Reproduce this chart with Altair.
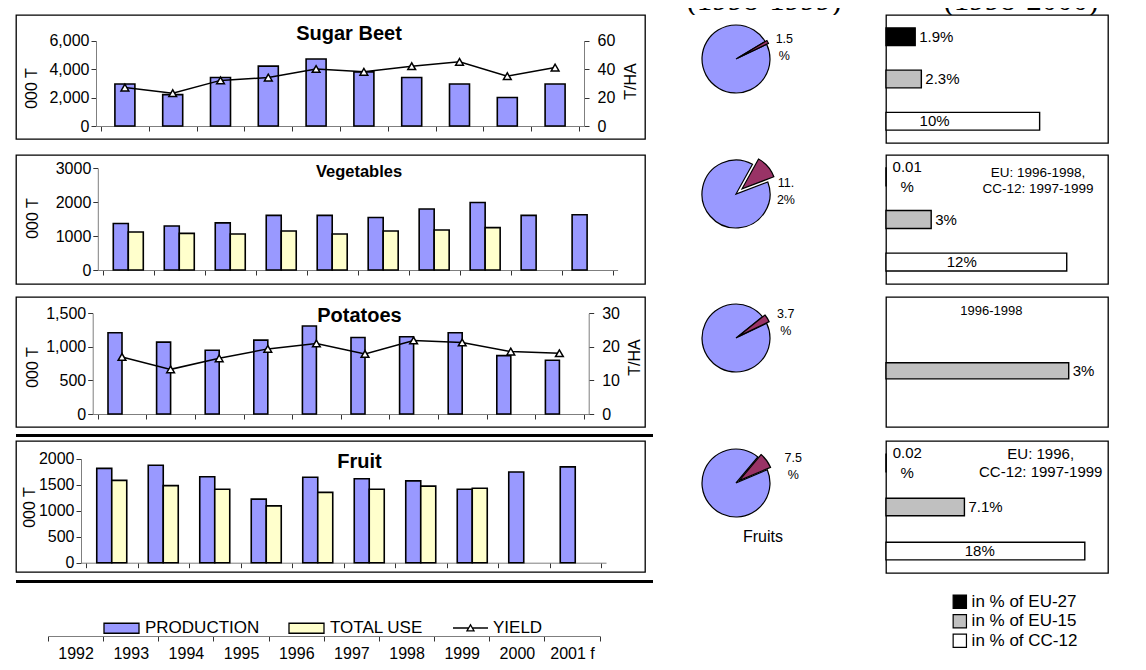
import math
import altair as alt
import pandas as pd

FONT = "Liberation Sans"
BLUE = "#9999FF"
YELLOW = "#FFFFCC"
MAROON = "#993366"
GREY = "#C0C0C0"
AXIS_GREY = "#7f7f7f"

# ---------------- data ----------------
years = ["1992", "1993", "1994", "1995", "1996", "1997", "1998", "1999", "2000", "2001 f"]

sugar_production = [2950, 2200, 3400, 4200, 4700, 3800, 3400, 2950, 2000, 2950]
sugar_yield = [27, 23, 32, 34, 40, 38, 42, 45, 35, 41]

veg_production = [1370, 1300, 1390, 1610, 1610, 1550, 1800, 1990, 1610, 1630]
veg_total_use = [1120, 1080, 1060, 1150, 1060, 1150, 1180, 1250, None, None]

potato_production = [1210, 1070, 950, 1100, 1310, 1140, 1150, 1210, 870, 800]
potato_yield = [17.0, 13.3, 16.6, 19.4, 21.0, 17.9, 21.9, 21.3, 18.6, 18.1]

fruit_production = [1810, 1870, 1650, 1220, 1640, 1610, 1570, 1410, 1740, 1840]
fruit_total_use = [1580, 1480, 1410, 1090, 1350, 1410, 1470, 1430, None, None]

bar_series = ["PRODUCTION", "TOTAL USE"]
line_series = ["YIELD"]

pie_shares = [1.5, 11.2, 3.7, 7.5]
pie_labels = ["1.5\n%", "11.\n2%", "3.7\n%", "7.5\n%"]

groups = ["EU-27", "EU-15", "CC-12"]
group_legend = ["in % of EU-27", "in % of EU-15", "in % of CC-12"]
share_sugar = [1.9, 2.3, 10.0]
share_veg = [0.01, 3.0, 12.0]
share_potato = [None, 3.0, None]
share_fruit = [0.02, 7.1, 18.0]
labels_sugar = ["1.9%", "2.3%", "10%"]
labels_veg = ["0.01\n%", "3%", "12%"]
labels_potato = [None, "3%", None]
labels_fruit = ["0.02\n%", "7.1%", "18%"]

note_veg = ["EU: 1996-1998,", "CC-12: 1997-1999"]
note_potato = "1996-1998"
note_fruit = ["EU: 1996,", "CC-12: 1997-1999"]
header_left = "(1998-1999)"
header_right = "(1998-2000)"

BOX = alt.ViewBackground(stroke="black", strokeWidth=1.3, fill="white")


def year_frame(**cols):
    frame = pd.DataFrame({"year": years, "pos": [i + 0.5 for i in range(len(years))]})
    for k, v in cols.items():
        frame[k] = v
    return frame


def spacer(w, h):
    return alt.Chart(pd.DataFrame({"z": [0]})).mark_point(opacity=0, size=0, strokeWidth=0).properties(
        width=w, height=h)


def thick_line(w, h):
    return alt.Chart(pd.DataFrame({"z": [0]})).mark_point(opacity=0, size=0, strokeWidth=0).properties(
        width=w, height=h, view=alt.ViewBackground(fill="black", strokeWidth=0))


def year_x(rng, off):
    return alt.X("pos:Q", scale=alt.Scale(domain=[0, 10], range=rng, nice=False, zero=False),
                 axis=alt.Axis(values=list(range(11)), labels=False, ticks=True, tickSize=5,
                               domain=True, grid=False, title=None, offset=off,
                               domainColor=AXIS_GREY, tickColor="#333333"))


def left_axis(values, fmt, offset, tx, ty):
    return alt.Axis(values=values, format=fmt, orient="left", offset=offset, grid=False,
                    tickSize=5, labelPadding=2, labelFontSize=16, labelFont=FONT,
                    domainColor=AXIS_GREY, tickColor="#333333",
                    title="000 T", titleFont=FONT, titleFontSize=16, titleFontWeight="normal",
                    titleAngle=270, titleX=tx, titleY=ty, titleAlign="center",
                    titleBaseline="middle")


def right_axis(values, offset, tx, ty):
    return alt.Axis(values=values, format="d", orient="right", offset=offset, grid=False,
                    tickSize=5, labelPadding=8, labelFontSize=16, labelFont=FONT,
                    domainColor=AXIS_GREY, tickColor="#333333",
                    title="T/HA", titleFont=FONT, titleFontSize=16, titleFontWeight="normal",
                    titleAngle=270, titleX=tx, titleY=ty, titleAlign="center",
                    titleBaseline="middle")


def panel_title(text, size, dx, dy):
    return alt.Title(text, fontSize=size, fontWeight="bold", font=FONT, color="black",
                     anchor="middle", frame="group", offset=0, dx=dx, dy=dy, baseline="middle")


def bars(df, field, color, width, xoff, x, yscale, yaxis):
    return alt.Chart(df).mark_bar(color=color, stroke="black", strokeWidth=1.6, width=width,
                                  xOffset=xoff, orient="vertical").encode(
        x=x, y=alt.Y(field + ":Q", scale=yscale, axis=yaxis))


def yield_line(df, x, yscale, yaxis):
    return alt.Chart(df).mark_line(
        color="black", strokeWidth=1.5,
        point=alt.OverlayMarkDef(shape="triangle-up", filled=True, fill="white",
                                 stroke="black", strokeWidth=1.5, size=60)
    ).encode(x=x, y=alt.Y("yld:Q", scale=yscale, axis=yaxis))


# ---------- Sugar beet ----------
sb_df = year_frame(production=sugar_production, yld=sugar_yield)
sb_x = year_x([80, 568], -13)
sugar = alt.layer(
    bars(sb_df, "production", BLUE, 20, 0, sb_x,
         alt.Scale(domain=[0, 6000], range=[111, 25.5], nice=False),
         left_axis([0, 2000, 4000, 6000], ",d", -80, -65, 73)),
    yield_line(sb_df, sb_x, alt.Scale(domain=[0, 60], range=[111, 25.5], nice=False),
               right_axis([0, 20, 40, 60], -61, 46, 66)),
).resolve_scale(y="independent").properties(
    width=629, height=124, view=BOX, title=panel_title("Sugar Beet", 20, 18.5, 39.2))

# ---------- Vegetables ----------
vg_df = year_frame(production=veg_production, use=veg_total_use)
vg_x = year_x([81.8, 601.6], -14)
vg_scale = alt.Scale(domain=[0, 3000], range=[115, 13.3], nice=False)
vg_axis = left_axis([0, 1000, 2000, 3000], "d", -81.8, -65, 63)
vegetables = alt.layer(
    bars(vg_df, "production", BLUE, 15, -7.5, vg_x, vg_scale, vg_axis),
    bars(vg_df, "use", YELLOW, 15, 7.5, vg_x, vg_scale, vg_axis),
).properties(width=629, height=129, view=BOX, title=panel_title("Vegetables", 16.5, 28.5, 33))

# ---------- Potatoes ----------
pt_df = year_frame(production=potato_production, yld=potato_yield)
pt_x = year_x([76.7, 572.7], -13)
potatoes = alt.layer(
    bars(pt_df, "production", BLUE, 14, -7, pt_x,
         alt.Scale(domain=[0, 1500], range=[117, 16.3], nice=False),
         left_axis([0, 500, 1000, 1500], ",d", -76.7, -60, 70)),
    yield_line(pt_df, pt_x, alt.Scale(domain=[0, 30], range=[117, 16.3], nice=False),
               right_axis([0, 10, 20, 30], -56.3, 46, 60)),
).resolve_scale(y="independent").properties(
    width=629, height=130, view=BOX, title=panel_title("Potatoes", 20, 29, 39))

# ---------- Fruit ----------
fr_df = year_frame(production=fruit_production, use=fruit_total_use)
fr_x = year_x([65, 590], -9.3)
fr_scale = alt.Scale(domain=[0, 2000], range=[121.7, 17.5], nice=False)
fr_axis = left_axis([0, 500, 1000, 1500, 2000], "d", -65, -52, 66)
fruit = alt.layer(
    bars(fr_df, "production", BLUE, 15, -7.5, fr_x, fr_scale, fr_axis),
    bars(fr_df, "use", YELLOW, 15, 7.5, fr_x, fr_scale, fr_axis),
).properties(width=629, height=131, view=BOX, title=panel_title("Fruit", 20, 29, 41))

# ---------- bottom: legend + year axis ----------
year_array = "[" + ",".join("'%s'" % y for y in years) + "]"
bottom_axis = alt.Axis(values=list(range(11)),
                       labelExpr="datum.value < %d ? %s[datum.value] : ''" % (len(years), year_array),
                       labelOffset=27.6, labelFlush=False, labelOverlap=False, labelBound=False,
                       tickSize=5, labelPadding=4, labelFontSize=16, labelFont=FONT,
                       domainColor=AXIS_GREY, tickColor="#333333",
                       grid=False, title=None, offset=-4)
axis_layer = alt.Chart(year_frame()).mark_point(opacity=0, size=0, strokeWidth=0).encode(
    x=alt.X("pos:Q", scale=alt.Scale(domain=[0, 10], range=[32, 583.6], nice=False, zero=False),
            axis=bottom_axis))
RECT_PATH = "M-1,-0.2857L1,-0.2857L1,0.2857L-1,0.2857Z"
YIELD_PATH = "M-1,0L-0.106,0M0.106,0L1,0M-0.2,0.16L0,-0.18L0.2,0.16Z"
bar_leg = alt.Legend(orient="none", legendX=87, legendY=9.5, direction="horizontal", title=None,
                     symbolType=RECT_PATH, symbolSize=1225, symbolStrokeColor="black",
                     symbolStrokeWidth=1.3, labelFont=FONT, labelFontSize=17, labelColor="black",
                     labelOffset=5, columnPadding=26, padding=0, symbolOpacity=1)
bar_legend_layer = alt.Chart(pd.DataFrame({"s": bar_series})).transform_filter("false").mark_square(
    filled=True, stroke="black", strokeWidth=1.3, opacity=1).encode(
    color=alt.Color("s:N", scale=alt.Scale(domain=bar_series, range=[BLUE, YELLOW]),
                    legend=bar_leg))
line_leg = alt.Legend(orient="none", legendX=436, legendY=9.5, direction="horizontal", title=None,
                      symbolType=YIELD_PATH, symbolSize=1225, symbolStrokeColor="black",
                      symbolStrokeWidth=1.3, labelFont=FONT, labelFontSize=17, labelColor="black",
                      labelOffset=4, padding=0, symbolOpacity=1)
line_legend_layer = alt.Chart(pd.DataFrame({"s": line_series})).transform_filter("false").mark_line(
    color="black", strokeWidth=1.3, opacity=1).encode(
    strokeDash=alt.StrokeDash("s:N", scale=alt.Scale(domain=line_series, range=[[1, 0]]),
                              legend=line_leg))
bottom = alt.layer(axis_layer, bar_legend_layer, line_legend_layer).properties(width=629, height=40)

# ---------- pies ----------
pie_style = [
    dict(start=59, explode=2, dx=8.7, dy=1.8),
    dict(start=29, explode=8, dx=15.9, dy=18.9),
    dict(start=51, explode=3, dx=11.7, dy=0.2),
    dict(start=40, explode=4, dx=21.1, dy=1.5),
]


def pie(i, caption=None):
    share = pie_shares[i]
    st = pie_style[i]
    df = pd.DataFrame({"part": ["share", "rest"], "v": [share, 100 - share], "ord": [0, 1],
                       "label": [pie_labels[i], ""]})
    a0 = math.radians(st["start"])
    mid = a0 + math.radians(share * 3.6) / 2
    theta = alt.Theta("v:Q", stack=True, scale=alt.Scale(range=[a0, a0 + 2 * math.pi]))
    base = alt.Chart(df).encode(theta=theta, order=alt.Order("ord:Q"))
    rest = base.mark_arc(radius=34, fill=BLUE, stroke="black", strokeWidth=1.2).encode(
        opacity=alt.condition("datum.part == 'rest'", alt.value(1), alt.value(0)))
    wedge = base.mark_arc(radius=34, fill=MAROON, stroke="black", strokeWidth=1.2,
                          xOffset=st["explode"] * math.sin(mid),
                          yOffset=-st["explode"] * math.cos(mid)).encode(
        opacity=alt.condition("datum.part == 'share'", alt.value(1), alt.value(0)))
    text = base.mark_text(radius=45, font=FONT, fontSize=12.5, lineBreak="\n", lineHeight=17,
                          align="center", baseline="middle", dx=st["dx"], dy=st["dy"],
                          color="black").encode(text="label:N")
    ch = alt.layer(rest, wedge, text).properties(width=166, height=80)
    if caption:
        ch = ch.properties(title=alt.Title(caption, orient="bottom", fontSize=16, font=FONT,
                                           fontWeight="normal", color="black", anchor="middle",
                                           frame="group", offset=0, dx=27, dy=14,
                                           baseline="middle"))
    return ch


def header(text, width, cx):
    return alt.Chart(pd.DataFrame({"t": [text]})).mark_text(
        font="Liberation Serif", fontSize=31, align="center", baseline="alphabetic", clip=True,
        color="black").encode(text="t:N", x=alt.value(cx), y=alt.value(2)).properties(
        width=width, height=7)


# ---------- share boxes ----------
def share_box(values, labels, xmax, height, note=None, note_size=13.5, note_dx=0, note_dy=0,
              note_lh=16.5, pin=0.58, pout=0.305, align=0.5):
    df = pd.DataFrame({"grp": groups, "v": values, "lab": labels})
    y = alt.Y("grp:N", sort=groups,
              scale=alt.Scale(domain=groups, paddingInner=pin, paddingOuter=pout, align=align),
              axis=None)
    x = alt.X("v:Q", scale=alt.Scale(domain=[0, xmax], nice=False, zero=True), axis=None)
    b = alt.Chart(df).mark_bar(stroke="black", strokeWidth=1.4).encode(
        x=x, y=y, color=alt.Color("grp:N", scale=alt.Scale(domain=groups,
                                                         range=["black", GREY, "white"]),
                                  legend=None))
    txt = dict(font=FONT, fontSize=15, color="black", baseline="middle")
    outside = alt.Chart(df).transform_filter(
        "isValid(datum.v) && datum.grp != 'CC-12' && datum.v >= 0.1").mark_text(
        align="left", dx=4, **txt).encode(x=x, y=y, text="lab:N")
    tiny = alt.Chart(df).transform_filter("isValid(datum.v) && datum.v < 0.1").mark_text(
        align="center", dx=21, dy=-9.75, lineBreak="\n", lineHeight=19.5, **txt).encode(
        x=x, y=y, text="lab:N")
    inside = alt.Chart(df).transform_filter(
        "isValid(datum.v) && datum.grp == 'CC-12'").mark_text(
        align="right", dx=-90, **txt).encode(x=x, y=y, text="lab:N")
    ch = alt.layer(b, outside, tiny, inside).properties(width=222, height=height, view=BOX)
    if note:
        ch = ch.properties(title=alt.Title(note, fontSize=note_size, font=FONT,
                                           fontWeight="normal", color="black", anchor="middle",
                                           frame="group", offset=0, dx=note_dx, dy=note_dy,
                                           baseline="middle", lineHeight=note_lh))
    return ch


box1 = share_box(share_sugar, labels_sugar, 14.45, 128)
box2 = share_box(share_veg, labels_veg, 14.74, 129, note=note_veg, note_size=13.5,
                 note_dx=41, note_dy=47.5, note_lh=16.5)
box3 = share_box(share_potato, labels_potato, 3.645, 130, note=note_potato, note_size=13,
                 note_dx=-5.7, note_dy=27.4, pin=0.63, align=0.83)
box4 = share_box(share_fruit, labels_fruit, 20.1, 132, note=note_fruit, note_size=15,
                 note_dx=43.7, note_dy=46, note_lh=17.7, pin=0.6, pout=0.297)

right_leg = alt.Legend(orient="none", legendX=65.3, legendY=1.2, title=None, symbolType="square",
                       symbolSize=177, symbolStrokeColor="black", symbolStrokeWidth=1.2,
                       labelFont=FONT, labelFontSize=17, labelColor="black", labelOffset=3.3,
                       rowPadding=0.5, padding=0, symbolOpacity=1)
right_legend = alt.Chart(pd.DataFrame({"lab": group_legend})).transform_filter("false").mark_square(
    filled=True, stroke="black", strokeWidth=1.2, opacity=1).encode(
    color=alt.Color("lab:N", scale=alt.Scale(domain=group_legend, range=["black", GREY, "white"]),
                    legend=right_leg)).properties(width=222, height=58)

IND = dict(color="independent", shape="independent", fill="independent", size="independent",
           strokeDash="independent")

left_col = alt.vconcat(
    spacer(1, 7), sugar, spacer(1, 16), vegetables, spacer(1, 13), potatoes, spacer(1, 7),
    thick_line(637, 3), spacer(1, 4), fruit, spacer(1, 8), thick_line(637, 3), spacer(1, 17),
    bottom, spacing=0, bounds="flush").resolve_scale(**IND)

pie_col = alt.vconcat(
    header(header_left, 200, 111), spacer(1, 4), pie(0), spacer(1, 55), pie(1), spacer(1, 64),
    pie(2), spacer(1, 65), pie(3, "Fruits"), spacing=0, bounds="flush").resolve_scale(**IND)

right_col = alt.vconcat(
    header(header_right, 222, 135), box1, spacer(1, 12), box2, spacer(1, 13), box3,
    spacer(1, 14), box4, spacer(1, 19), right_legend, spacing=0, bounds="flush"
).resolve_scale(**IND)

chart = alt.hconcat(
    left_col, pie_col, spacer(31, 1), right_col, spacing=0
).resolve_scale(**IND).properties(
    padding={"left": 7, "top": 0, "right": 4, "bottom": 0}
).configure(font=FONT).configure_view(strokeWidth=0).configure_axis(
    labelColor="black", titleColor="black", labelFont=FONT, titleFont=FONT)

chart.save("out.html", embed_options={"renderer": "svg", "actions": False})
